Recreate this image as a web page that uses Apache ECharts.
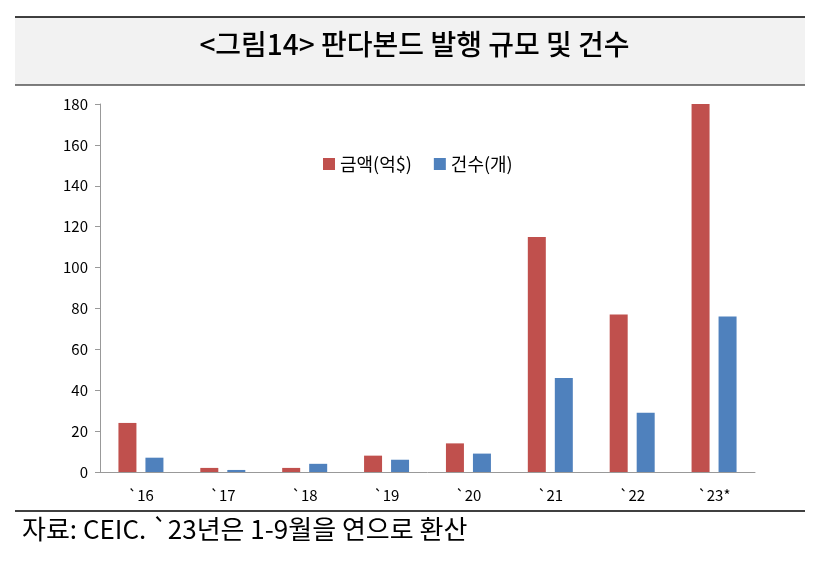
<!DOCTYPE html>
<html><head><meta charset="utf-8">
<script src="https://cdn.jsdelivr.net/npm/echarts@6/dist/echarts.min.js"></script>
<style>html,body{margin:0;padding:0;background:#fff}#c{width:829px;height:577px}</style>
</head><body><div id="c"></div>
<script>
const categories = ['`16','`17','`18','`19','`20','`21','`22','`23*'];
const amount = [24, 2, 2, 8, 14, 115, 77, 180];
const count = [7, 1, 4, 6, 9, 46, 29, 76];
const yTicks = [0, 20, 40, 60, 80, 100, 120, 140, 160, 180];
const font = '"Noto Sans CJK KR", "Noto Sans", sans-serif';
const chart = echarts.init(document.getElementById('c'));
chart.setOption({
  animation: false,
  textStyle: {fontFamily: font},
  graphic: [
    {type:'rect', shape:{x:15,y:17,width:790,height:68}, style:{fill:'#F2F2F2'}, z:-1},
    {type:'line', shape:{x1:15,y1:17,x2:805,y2:17}, style:{stroke:'#000',lineWidth:1.5}},
    {type:'line', shape:{x1:15,y1:85,x2:805,y2:85}, style:{stroke:'#000',lineWidth:1}},
    {type:'text', left:'center', top:30, style:{text:'<그림14> 판다본드 발행 규모 및 건수', font:'500 28px ' + font, fill:'#000'}},
    {type:'line', shape:{x1:15,y1:511,x2:805,y2:511}, style:{stroke:'#000',lineWidth:1.5}},
    {type:'text', left:22, top:516, style:{text:'자료: CEIC. `23년은 1-9월을 연으로 환산', font:'26px ' + font, fill:'#000'}}
  ],
  legend: {top:150, left:318, itemWidth:12, itemHeight:12, itemGap:22,
    textStyle:{fontSize:18, color:'#000', fontFamily:font},
    data:[{name:'금액(억$)', icon:'rect'}, {name:'건수(개)', icon:'rect'}]},
  grid: {left:100, right:74, top:104, bottom:105},
  xAxis: {type:'category', data:categories,
    axisLine:{lineStyle:{color:'#999'}}, axisTick:{show:false},
    axisLabel:{color:'#000', fontSize:15, margin:16}},
  yAxis: {type:'value', min:0, max:180, interval:20,
    axisLine:{show:true, lineStyle:{color:'#999'}},
    axisTick:{show:true, lineStyle:{color:'#999'}},
    splitLine:{show:false},
    axisLabel:{color:'#000', fontSize:15, margin:12,
      formatter: v => yTicks.includes(v) ? String(v) : ''}},
  series: [
    {name:'금액(억$)', type:'bar', data:amount, barWidth:18, barGap:'50%', itemStyle:{color:'#C0504D'}},
    {name:'건수(개)', type:'bar', data:count, barWidth:18, itemStyle:{color:'#4F81BD'}}
  ]
});
</script></body></html>
